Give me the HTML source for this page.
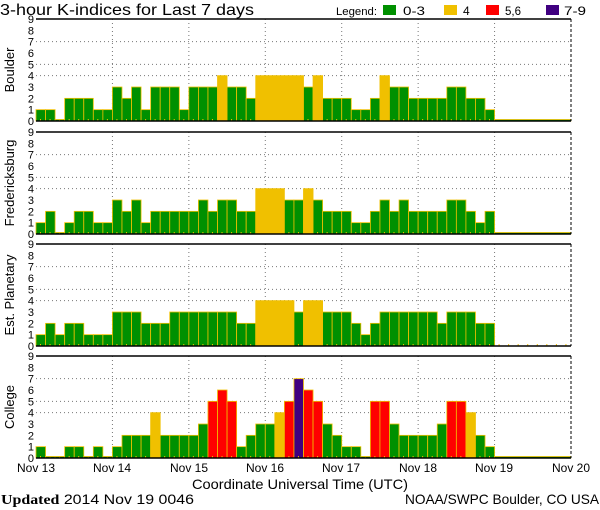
<!DOCTYPE html>
<html><head><meta charset="utf-8"><style>
html,body{margin:0;padding:0;background:#fff;}
svg{display:block;font-family:"Liberation Sans",sans-serif;}
</style></head><body>
<svg id="s" width="600" height="510" xmlns="http://www.w3.org/2000/svg">
<text x="0" y="15" font-size="16" textLength="254" lengthAdjust="spacingAndGlyphs">3-hour K-indices for Last 7 days</text>
<text x="336" y="15" font-size="11" textLength="41" lengthAdjust="spacingAndGlyphs">Legend:</text>
<rect x="383" y="5" width="13" height="10" fill="#009000"/><text x="403" y="15" font-size="12" textLength="22" lengthAdjust="spacingAndGlyphs">0-3</text>
<rect x="444" y="5" width="13" height="10" fill="#f0c000"/><text x="463" y="15" font-size="12">4</text>
<rect x="486" y="5" width="13" height="10" fill="#ff0000"/><text x="505" y="15" font-size="12" textLength="16" lengthAdjust="spacingAndGlyphs">5,6</text>
<rect x="546" y="5" width="13" height="10" fill="#400080"/><text x="564" y="15" font-size="12" textLength="22" lengthAdjust="spacingAndGlyphs">7-9</text>
<g id="g"></g>
<g font-size="12" text-anchor="middle">
<text x="36" y="472" textLength="38" lengthAdjust="spacingAndGlyphs">Nov 13</text><text x="112" y="472" textLength="38" lengthAdjust="spacingAndGlyphs">Nov 14</text><text x="189" y="472" textLength="38" lengthAdjust="spacingAndGlyphs">Nov 15</text><text x="265" y="472" textLength="38" lengthAdjust="spacingAndGlyphs">Nov 16</text><text x="341" y="472" textLength="38" lengthAdjust="spacingAndGlyphs">Nov 17</text><text x="418" y="472" textLength="38" lengthAdjust="spacingAndGlyphs">Nov 18</text><text x="494" y="472" textLength="38" lengthAdjust="spacingAndGlyphs">Nov 19</text><text x="571" y="472" textLength="38" lengthAdjust="spacingAndGlyphs">Nov 20</text>
</g>
<text x="192" y="489" font-size="14" textLength="216" lengthAdjust="spacingAndGlyphs">Coordinate Universal Time (UTC)</text>
<text x="1" y="504" font-size="14" textLength="193" lengthAdjust="spacingAndGlyphs"><tspan font-weight="bold" font-family="Liberation Serif">Updated</tspan> 2014 Nov 19 0046</text>
<text x="405" y="504" font-size="14" textLength="194" lengthAdjust="spacingAndGlyphs">NOAA/SWPC Boulder, CO USA</text>
</svg>
<script>
var D=[
["Boulder",121,[1,1,0,2,2,2,1,1, 3,2,3,1,3,3,3,1, 3,3,3,4,3,3,2,4, 4,4,4,4,3,4,2,2, 2,1,1,2,4,3,3,2, 2,2,2,3,3,2,2,1],1],
["Fredericksburg",234,[1,2,0,1,2,2,1,1, 3,2,3,1,2,2,2,2, 2,3,2,3,3,2,2,4, 4,4,3,3,4,3,2,2, 2,1,1,2,3,2,3,2, 2,2,2,3,3,2,1,2],1],
["Est. Planetary",346,[1,2,1,2,2,1,1,1, 3,3,3,2,2,2,3,3, 3,3,3,3,3,2,2,4, 4,4,4,3,4,4,3,3, 3,2,1,2,3,3,3,3, 3,3,2,3,3,3,2,2],0],
["College",458,[1,0,0,1,1,0,1,0, 1,2,2,2,4,2,2,2, 2,3,5,6,5,1,2,3, 3,4,5,7,6,5,3,2, 1,1,0,5,5,3,2,2, 2,2,3,5,5,4,2,1],1]];
var L=36,R=571,W=(R-L)/56,U=102/9,h="";
D.forEach(function(p){
 var b=p[1],t=b-102;
 [4,5,7].forEach(function(k){var y=b-k*U;h+='<line x1="'+L+'" x2="'+R+'" y1="'+y+'" y2="'+y+'" stroke="#777" stroke-dasharray="1,3"/>';});
 for(var d=1;d<7;d++){var x=L+d*(R-L)/7;h+='<line x1="'+x+'" x2="'+x+'" y1="'+t+'" y2="'+b+'" stroke="#777" stroke-dasharray="1,3"/>';}
 p[2].forEach(function(v,i){var c=v<=3?"#009000":v==4?"#f0c000":v<=6?"#ff0000":"#400080";var hh=v==0?1.5:v*U;
  h+='<rect x="'+(L+i*W)+'" y="'+(b-hh)+'" width="'+W+'" height="'+hh+'" fill="'+c+'" stroke="#f0c000" stroke-width="0.8"/>';
  h+='<rect x="'+(L+i*W+4)+'" y="'+(b-2)+'" width="1" height="2" fill="#f0c000"/>';});
 if(p[3]) h+='<rect x="'+(L+48*W)+'" y="'+(b-1.5)+'" width="'+(8*W)+'" height="1.5" fill="#009000" stroke="#f0c000" stroke-width="0.8"/>';
 else for(var i=48;i<56;i++)h+='<rect x="'+(L+i*W+4)+'" y="'+(b-2)+'" width="1" height="2" fill="#f0c000"/>';
 h+='<line x1="'+L+'" x2="'+R+'" y1="'+t+'" y2="'+t+'" stroke="#000" stroke-width="1.5"/>';
 h+='<line x1="'+L+'" x2="'+R+'" y1="'+b+'" y2="'+b+'" stroke="#000" stroke-width="1.5"/>';
 h+='<line x1="'+R+'" x2="'+R+'" y1="'+t+'" y2="'+b+'" stroke="#000" stroke-dasharray="3,2"/>';
 for(var k=0;k<=9;k++)h+='<text x="34" y="'+(b-k*U+4)+'" font-size="11" text-anchor="end">'+k+'</text>';
 var cy=(t+b)/2;h+='<text x="0" y="0" font-size="13" text-anchor="middle" transform="translate(14,'+cy+') rotate(-90)">'+p[0]+'</text>';
});
document.getElementById("g").innerHTML=h;
</script>
</body></html>
